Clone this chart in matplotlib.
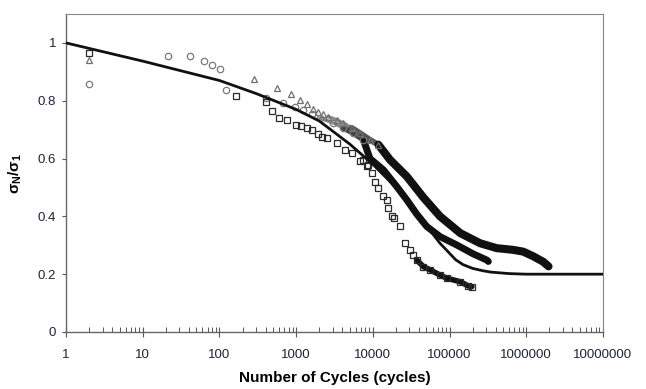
import matplotlib
matplotlib.use("Agg")
import matplotlib.pyplot as plt
from matplotlib.ticker import LogLocator, FixedLocator, NullFormatter

plt.rcParams['font.family'] = ['Liberation Sans', 'DejaVu Sans']
plt.rcParams['mathtext.fontset'] = 'custom'
plt.rcParams['mathtext.rm'] = 'Liberation Sans'
plt.rcParams['mathtext.bf'] = 'Liberation Sans:bold'
plt.rcParams['mathtext.it'] = 'Liberation Sans:italic'

# ---- data ----
sq_N = [2, 163, 400, 480, 600, 750, 1000, 1170, 1380, 1590, 1950, 2190, 2500,
        3390, 4360, 5310, 6780, 7520, 8330, 8730, 9670, 10700, 11800, 13700,
        15200, 15900, 17700, 18700, 22600]
sq_v = [0.965, 0.815, 0.794, 0.763, 0.74, 0.734, 0.717, 0.714, 0.706, 0.70, 0.686, 0.676, 0.67,
        0.653, 0.63, 0.619, 0.59, 0.596, 0.573, 0.578, 0.55, 0.52, 0.498, 0.469,
        0.457, 0.428, 0.40, 0.395, 0.365]
sq_dense_N = [26300, 30600, 33800, 37300, 45700, 55700, 75100, 91700, 138000, 176000, 195000]
sq_dense_v = [0.307, 0.284, 0.267, 0.249, 0.226, 0.215, 0.197, 0.186, 0.174, 0.159, 0.157]

tri_N = [2, 282, 560, 850, 1125, 1380, 1660, 1950, 2240, 2600, 3390, 4120, 5310, 6780, 9170, 11800]
tri_v = [0.942, 0.875, 0.844, 0.825, 0.804, 0.787, 0.773, 0.76, 0.754, 0.745, 0.734, 0.723,
         0.706, 0.688, 0.665, 0.648]
tri_dense_N = [11800, 16700, 27700, 45700, 75100, 138000, 250000, 412000, 680000, 912000,
               1230000, 1660000, 1950000]
tri_dense_v = [0.648, 0.596, 0.538, 0.465, 0.40, 0.342, 0.307, 0.29, 0.284, 0.278,
               0.262, 0.243, 0.227]

cir_N = [2, 21.6, 41, 62, 81, 102, 122, 400, 680, 980, 1230, 1590, 2040, 3060, 4120, 5560, 7520]
cir_v = [0.858, 0.956, 0.956, 0.936, 0.925, 0.91, 0.838, 0.809, 0.792, 0.777, 0.767, 0.755,
         0.74, 0.723, 0.706, 0.688, 0.665]
cir_dense_N = [7520, 9170, 13700, 20500, 27700, 37300, 50400, 75100, 124000, 204000, 305000, 320000]
cir_dense_v = [0.665, 0.60, 0.561, 0.503, 0.457, 0.408, 0.365, 0.33, 0.301, 0.27, 0.249, 0.244]

model_N = [1, 10, 100, 300, 1000, 2000, 5000, 10000, 20000, 40000, 75000, 120000,
           150000, 200000, 270000, 350000, 600000, 1000000, 10000000]
model_v = [1.0, 0.937, 0.87, 0.825, 0.77, 0.73, 0.65, 0.58, 0.50, 0.40, 0.307, 0.25,
           0.233, 0.22, 0.212, 0.207, 0.202, 0.2, 0.2]

y_ticks = [0, 0.2, 0.4, 0.6, 0.8, 1]
y_labels = ['0', '0.2', '0.4', '0.6', '0.8', '1']
x_ticks = [1, 10, 100, 1000, 10000, 100000, 1000000, 10000000]
x_labels = ['1', '10', '100', '1000', '10000', '100000', '1000000', '10000000']

# ---- figure ----
fig = plt.figure(figsize=(6.46, 3.89), dpi=100)
ax = fig.add_axes([66/646, 1-332/389, (603-66)/646, (332-14)/389])

ms = 4.6
band = dict(solid_capstyle='round', solid_joinstyle='round', zorder=2)

# transition (overlapping grey markers) parts of the dense bands
ax.plot(tri_N[9:], tri_v[9:], '-', color='#8a8a8a', lw=2.5, **band)
ax.plot(tri_N[12:], tri_v[12:], '-', color='#555555', lw=4.2, **band)
ax.plot(cir_N[12:], cir_v[12:], '-', color='#8a8a8a', lw=2.5, **band)
ax.plot(cir_N[14:], cir_v[14:], '-', color='#444444', lw=4.0, **band)

# dense black bands
ax.plot(tri_dense_N, tri_dense_v, '-', color='#111111', lw=5.8, **band)
ax.plot(cir_dense_N, cir_dense_v, '-', color='#111111', lw=5.0, **band)
ax.plot(sq_dense_N[3:], sq_dense_v[3:], '-', color='#111111', lw=4.0, **band)

ax.plot(tri_N, tri_v, '^', ms=ms, mfc='none', mec='#6e6e6e', mew=0.9, ls='none', zorder=3)
ax.plot(cir_N, cir_v, 'o', ms=ms, mfc='none', mec='#7a7a7a', mew=0.9, ls='none', zorder=3)
ax.plot(sq_N, sq_v, 's', ms=ms, mfc='none', mec='#2a2a2a', mew=0.9, ls='none', zorder=3)
ax.plot(sq_dense_N, sq_dense_v, 's', ms=ms, mfc='none', mec='#2a2a2a', mew=0.9, ls='none', zorder=3)

ax.plot(model_N, model_v, '-', color='#111111', lw=2.0, zorder=4)

ax.set_xscale('log')
ax.set_xlim(1, 1e7)
ax.set_ylim(0, 1.1)

ax.xaxis.set_major_locator(FixedLocator(x_ticks))
ax.set_xticks(x_ticks)
ax.set_xticklabels(x_labels)
ax.xaxis.set_minor_locator(LogLocator(base=10, subs=range(2, 10), numticks=20))
ax.xaxis.set_minor_formatter(NullFormatter())
ax.set_yticks(y_ticks)
ax.set_yticklabels(y_labels)

ax.tick_params(axis='x', which='major', direction='inout', length=7, width=0.8,
               color='#555555', pad=9, labelsize=9.5, labelcolor='#1c2438')
ax.tick_params(axis='x', which='minor', direction='in', length=3.5, width=0.7, color='#555555')
ax.tick_params(axis='y', which='major', direction='out', length=3, width=0.8,
               color='#555555', pad=4, labelsize=9.5, labelcolor='#1c2438')

for s in ['left', 'bottom']:
    ax.spines[s].set_color('#666666')
    ax.spines[s].set_linewidth(1.0)
for s in ['top', 'right']:
    ax.spines[s].set_color('#888888')
    ax.spines[s].set_linewidth(0.8)

ax.set_xlabel('Number of Cycles (cycles)', fontsize=11, fontweight='bold', labelpad=7)
ax.set_ylabel(r'σ$_\mathbf{N}$/σ$_\mathbf{1}$', fontsize=11, fontweight='bold', labelpad=10)

fig.savefig('out.png', dpi=100)
